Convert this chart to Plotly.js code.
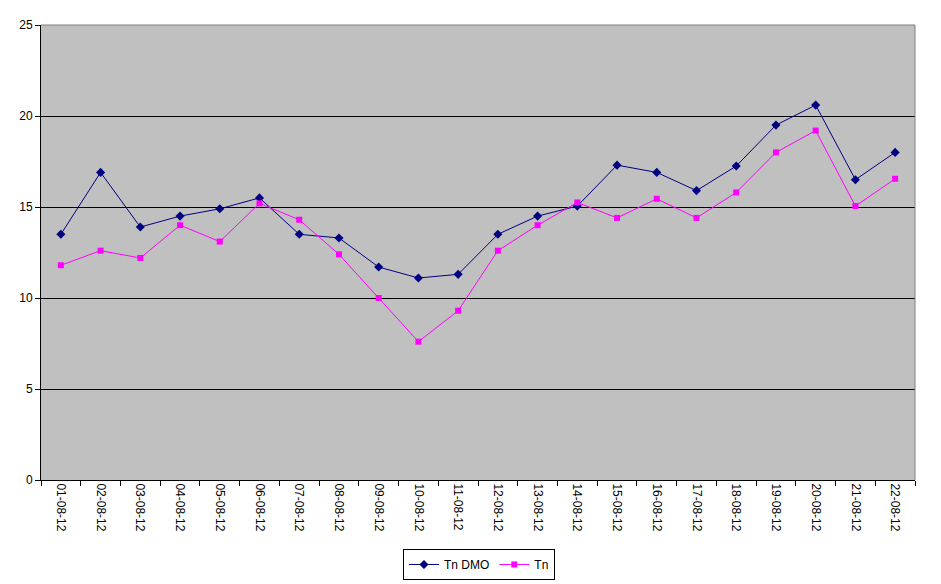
<!DOCTYPE html>
<html>
<head>
<meta charset="utf-8">
<script src="https://cdn.plot.ly/plotly-3.0.1.min.js"></script>
<style>
  html, body { margin: 0; padding: 0; background: #fff; }
  #chart { width: 941px; height: 584px; }
</style>
</head>
<body>
<div id="chart"></div>
<script>
// dates on the x axis
var days = ["01-08-12","02-08-12","03-08-12","04-08-12","05-08-12","06-08-12","07-08-12","08-08-12",
            "09-08-12","10-08-12","11-08-12","12-08-12","13-08-12","14-08-12","15-08-12","16-08-12",
            "17-08-12","18-08-12","19-08-12","20-08-12","21-08-12","22-08-12"];
// values
var tnDmo = [13.5, 16.9, 13.9, 14.5, 14.9, 15.5, 13.5, 13.3, 11.7, 11.1, 11.3,
             13.5, 14.5, 15.05, 17.3, 16.9, 15.9, 17.25, 19.5, 20.6, 16.5, 18.0];
var tn = [11.8, 12.6, 12.2, 14.0, 13.1, 15.2, 14.3, 12.4, 10.0, 7.6, 9.3,
          12.6, 14.0, 15.25, 14.4, 15.45, 14.4, 15.8, 18.0, 19.2, 15.05, 16.55];
var yTicks = [0, 5, 10, 15, 20, 25];

var traceDmo = {
    x: days,
    y: tnDmo,
    type: 'scatter',
    mode: 'lines+markers',
    name: 'Tn DMO',
    line: {color: '#000080', width: 1},
    marker: {symbol: 'diamond', size: 7, color: '#000080'}
};
var traceTn = {
    x: days,
    y: tn,
    type: 'scatter',
    mode: 'lines+markers',
    name: 'Tn',
    line: {color: '#FF00FF', width: 1},
    marker: {symbol: 'square', size: 6, color: '#FF00FF'}
};

var layout = {
    width: 941,
    height: 584,
    margin: {l: 41, r: 26, t: 25, b: 104},
    paper_bgcolor: '#ffffff',
    plot_bgcolor: '#C0C0C0',
    font: {family: 'Arial, "Liberation Sans", sans-serif', size: 12, color: '#000'},
    showlegend: true,
    legend: {
        orientation: 'h',
        xref: 'container', yref: 'container',
        x: 0.509, xanchor: 'center',
        y: 0.060, yanchor: 'top',
        bordercolor: '#000', borderwidth: 1,
        bgcolor: '#fff',
        font: {size: 12},
        itemwidth: 30,
        tracegroupgap: 0
    },
    xaxis: {
        type: 'category',
        tickangle: 90,
        tickson: 'boundaries',
        ticks: 'outside',
        ticklen: 5,
        tickcolor: '#000',
        showgrid: false,
        showline: true,
        linecolor: '#000',
        linewidth: 1,
        zeroline: false,
        automargin: false,
        range: [-0.5, days.length - 0.5],
        fixedrange: true
    },
    yaxis: {
        range: [0, 25],
        tickvals: yTicks,
        ticks: 'outside',
        ticklen: 5,
        tickcolor: '#000',
        showgrid: true,
        gridcolor: '#000',
        gridwidth: 1,
        showline: true,
        linecolor: '#000',
        zeroline: false,
        automargin: false,
        fixedrange: true
    },
    shapes: [
        {type: 'line', xref: 'paper', yref: 'paper', x0: 0, x1: 1, y0: 1, y1: 1,
         line: {color: '#808080', width: 1}},
        {type: 'line', xref: 'paper', yref: 'paper', x0: 1, x1: 1, y0: 0, y1: 1,
         line: {color: '#808080', width: 1}}
    ]
};

Plotly.newPlot('chart', [traceDmo, traceTn], layout, {displayModeBar: false, staticPlot: true});
</script>
</body>
</html>
